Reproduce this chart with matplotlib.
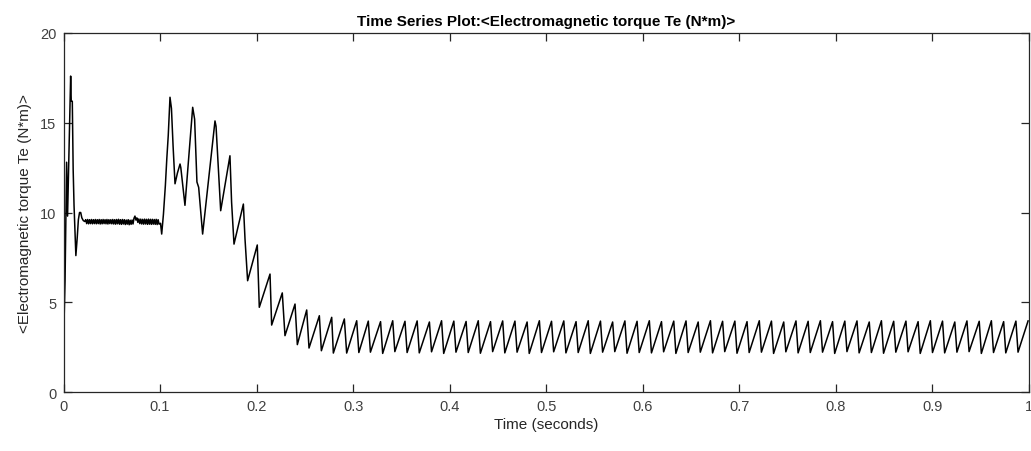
import matplotlib
matplotlib.use("Agg")
import matplotlib.pyplot as plt
import numpy as np

# ---------------- data ----------------
# start-up transient (0 .. 0.022 s)
start_t = [0.0000, 0.0016, 0.0032, 0.0042, 0.0074, 0.0080, 0.0091, 0.0100,
           0.0109, 0.0128, 0.0142, 0.0154, 0.0166, 0.0178, 0.0190, 0.0205, 0.0220]
start_v = [2.7, 6.2, 12.8, 9.8, 17.6, 16.2, 16.2, 12.4,
           10.4, 7.6, 8.6, 9.6, 10.0, 10.0, 9.7, 9.55, 9.50]

# quasi-steady plateau with fast ripple (0.023 .. 0.099 s)
plat_t = [0.023, 0.024, 0.025, 0.026, 0.027, 0.028, 0.029, 0.030, 0.031, 0.032,
          0.033, 0.034, 0.035, 0.036, 0.037, 0.038, 0.039, 0.040, 0.041, 0.042,
          0.043, 0.044, 0.045, 0.046, 0.047, 0.048, 0.049, 0.050, 0.051, 0.052,
          0.053, 0.054, 0.055, 0.056, 0.057, 0.058, 0.059, 0.060, 0.061, 0.062,
          0.063, 0.064, 0.065, 0.066, 0.067, 0.068, 0.069, 0.070, 0.071, 0.072,
          0.073, 0.074, 0.075, 0.076, 0.077, 0.078, 0.079, 0.080, 0.081, 0.082,
          0.083, 0.084, 0.085, 0.086, 0.087, 0.088, 0.089, 0.090, 0.091, 0.092,
          0.093, 0.094, 0.095, 0.096, 0.097, 0.098, 0.099]
plat_v = [9.60, 9.38, 9.61, 9.37, 9.60, 9.38, 9.61, 9.37, 9.60, 9.38,
          9.61, 9.37, 9.60, 9.38, 9.61, 9.36, 9.60, 9.37, 9.61, 9.38,
          9.60, 9.37, 9.61, 9.36, 9.60, 9.38, 9.60, 9.37, 9.61, 9.36,
          9.60, 9.35, 9.61, 9.37, 9.62, 9.35, 9.60, 9.34, 9.61, 9.36,
          9.60, 9.33, 9.58, 9.35, 9.60, 9.32, 9.57, 9.34, 9.58, 9.36,
          9.68, 9.80, 9.58, 9.70, 9.45, 9.64, 9.38, 9.63, 9.36, 9.62,
          9.35, 9.63, 9.36, 9.62, 9.34, 9.63, 9.35, 9.62, 9.34, 9.62,
          9.35, 9.61, 9.34, 9.62, 9.33, 9.60, 9.35]

# load step transient (0.100 .. 0.200 s)
step_t = [0.1005, 0.1017, 0.1035, 0.1055, 0.1070, 0.1085, 0.1097, 0.1103,
          0.1118, 0.1135, 0.1155, 0.1180, 0.1207, 0.1215, 0.1258, 0.1338,
          0.1358, 0.1382, 0.1400, 0.1441, 0.1569, 0.1580, 0.1603, 0.1628,
          0.1724, 0.1741, 0.1766, 0.1863, 0.1880, 0.1907]
step_v = [9.40, 8.80, 9.90, 11.5, 13.0, 14.3, 15.7, 16.42,
          15.8, 13.7, 11.6, 12.2, 12.7, 12.5, 10.4, 15.86,
          15.2, 11.7, 11.4, 8.8, 15.1, 14.8, 12.6, 10.1,
          13.16, 10.57, 8.24, 10.47, 8.52, 6.2]

# sawtooth ripple: peak and trough after each peak (0.20 .. 1.0 s)
peak_t = [0.2007, 0.2139, 0.2266, 0.2398, 0.2519, 0.2650, 0.2778, 0.2909,
          0.3037, 0.3157, 0.3284, 0.3410, 0.3537, 0.3663, 0.3790, 0.3916,
          0.4043, 0.4170, 0.4296, 0.4423, 0.4549, 0.4676, 0.4802, 0.4929,
          0.5055, 0.5182, 0.5309, 0.5435, 0.5562, 0.5688, 0.5815, 0.5941,
          0.6068, 0.6194, 0.6321, 0.6448, 0.6574, 0.6701, 0.6827, 0.6954,
          0.7080, 0.7207, 0.7333, 0.7460, 0.7587, 0.7713, 0.7840, 0.7966,
          0.8093, 0.8219, 0.8346, 0.8472, 0.8599, 0.8726, 0.8852, 0.8979,
          0.9105, 0.9232, 0.9358, 0.9485, 0.9611, 0.9738, 0.9865, 0.9991]
peak_v = [8.19, 6.57, 5.52, 4.90, 4.57, 4.25, 4.16, 4.07,
          3.97, 3.95, 3.92, 3.97, 3.94, 3.96, 3.90, 3.97,
          3.95, 3.93, 3.97, 3.92, 3.96, 3.95, 3.90, 3.97,
          3.94, 3.96, 3.92, 3.97, 3.95, 3.90, 3.96, 3.94,
          3.97, 3.92, 3.95, 3.96, 3.90, 3.97, 3.94, 3.95,
          3.92, 3.97, 3.95, 3.90, 3.96, 3.94, 3.97, 3.92,
          3.95, 3.96, 3.90, 3.97, 3.94, 3.95, 3.92, 3.97,
          3.95, 3.90, 3.96, 3.94, 3.97, 3.92, 3.95, 3.96]
trough_t = [0.2028, 0.2156, 0.2294, 0.2422, 0.2543, 0.2671, 0.2795, 0.2933,
            0.3059, 0.3179, 0.3306, 0.3432, 0.3559, 0.3685, 0.3812, 0.3938,
            0.4065, 0.4192, 0.4318, 0.4445, 0.4571, 0.4698, 0.4824, 0.4951,
            0.5077, 0.5204, 0.5331, 0.5457, 0.5584, 0.5710, 0.5837, 0.5963,
            0.6090, 0.6216, 0.6343, 0.6470, 0.6596, 0.6723, 0.6849, 0.6976,
            0.7102, 0.7229, 0.7355, 0.7482, 0.7609, 0.7735, 0.7862, 0.7988,
            0.8115, 0.8241, 0.8368, 0.8494, 0.8621, 0.8748, 0.8874, 0.9001,
            0.9127, 0.9254, 0.9380, 0.9507, 0.9633, 0.9760, 0.9887]
trough_v = [4.72, 3.73, 3.14, 2.64, 2.45, 2.30, 2.17, 2.17,
            2.20, 2.22, 2.15, 2.25, 2.20, 2.18, 2.24, 2.15,
            2.22, 2.20, 2.16, 2.25, 2.18, 2.22, 2.15, 2.20,
            2.24, 2.18, 2.20, 2.15, 2.22, 2.25, 2.16, 2.20,
            2.18, 2.24, 2.15, 2.20, 2.22, 2.18, 2.25, 2.16,
            2.20, 2.22, 2.15, 2.24, 2.18, 2.20, 2.22, 2.15,
            2.25, 2.18, 2.20, 2.16, 2.22, 2.24, 2.15, 2.20,
            2.18, 2.22, 2.25, 2.15, 2.20, 2.18, 2.22]

xticks = [0, 0.1, 0.2, 0.3, 0.4, 0.5, 0.6, 0.7, 0.8, 0.9, 1]
xtick_labels = ["0", "0.1", "0.2", "0.3", "0.4", "0.5", "0.6", "0.7", "0.8", "0.9", "1"]
yticks = [0, 5, 10, 15, 20]
ytick_labels = ["0", "5", "10", "15", "20"]

title = "Time Series Plot:<Electromagnetic torque Te (N*m)>"
xlabel = "Time (seconds)"
ylabel = "<Electromagnetic torque Te (N*m)>"

# ---------------- assemble the series ----------------
saw_t, saw_v = [], []
for i in range(len(peak_t)):
    saw_t.append(peak_t[i]); saw_v.append(peak_v[i])
    if i < len(trough_t):
        saw_t.append(trough_t[i]); saw_v.append(trough_v[i])

t = np.array(start_t + plat_t + step_t + saw_t)
v = np.array(start_v + plat_v + step_v + saw_v)

# ---------------- draw ----------------
plt.rcParams['font.family'] = ['Liberation Sans', 'DejaVu Sans']
fig = plt.figure(figsize=(10.31, 4.52), dpi=100)
ax = fig.add_axes([0.0616, 0.1305, 0.9364, 0.7943])

ax.plot(t, v, color='black', lw=1.1)

ax.set_xlim(0, 1)
ax.set_ylim(0, 20)
ax.set_xticks(xticks)
ax.set_xticklabels(xtick_labels)
ax.set_yticks(yticks)
ax.set_yticklabels(ytick_labels)

dark = '#262626'
for s in ax.spines.values():
    s.set_color(dark)
    s.set_linewidth(0.9)
ax.tick_params(direction='in', length=6, width=0.9, colors=dark,
               labelsize=10.5, top=True, right=True, pad=5)
for lbl in ax.get_xticklabels() + ax.get_yticklabels():
    lbl.set_color('#404040')

ax.set_title(title, fontsize=11, fontweight='bold', color='black', pad=6)
ax.set_xlabel(xlabel, fontsize=11, color='#262626', labelpad=3)
ax.set_ylabel(ylabel, fontsize=11, color='#262626', labelpad=6)

fig.savefig("out.png", dpi=100, facecolor='white')
